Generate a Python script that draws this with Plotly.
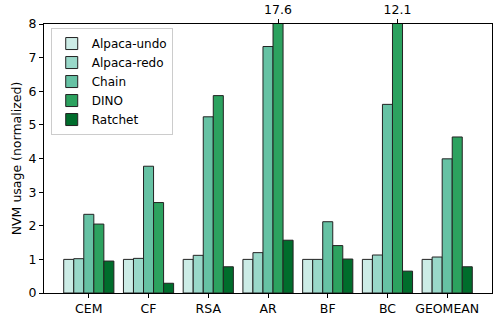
import plotly.graph_objects as go

categories = ["CEM", "CF", "RSA", "AR", "BF", "BC", "GEOMEAN"]
series_names = ["Alpaca-undo", "Alpaca-redo", "Chain", "DINO", "Ratchet"]
alpaca_undo = [1.0, 1.0, 1.0, 1.0, 1.0, 1.0, 1.0]
alpaca_redo = [1.02, 1.03, 1.12, 1.2, 1.0, 1.13, 1.07]
chain = [2.34, 3.77, 5.24, 7.33, 2.12, 5.61, 3.99]
dino = [2.05, 2.69, 5.87, 17.6, 1.41, 12.1, 4.64]
ratchet = [0.95, 0.29, 0.78, 1.57, 1.01, 0.65, 0.78]
colors = ["#ccece6", "#99d8c9", "#66c2a4", "#2ca25f", "#006d2c"]
y_max = 8

all_series = [alpaca_undo, alpaca_redo, chain, dino, ratchet]
bargap = 0.16
bw = (1 - bargap) / len(all_series)

fig = go.Figure()
for name, vals, col in zip(series_names, all_series, colors):
    fig.add_trace(go.Bar(x=categories, y=vals, name=name, marker_color=col,
                         marker_line_color="#222", marker_line_width=1))

# top ticks for clipped values
top_vals, top_text = [], []
for si, vals in enumerate(all_series):
    for ci, v in enumerate(vals):
        if v > y_max:
            top_vals.append(ci + (si - (len(all_series) - 1) / 2) * bw)
            top_text.append(f"{v:.1f}")

fig.add_trace(go.Scatter(x=[-0.75, 6.75], y=[0, 0], xaxis="x2", mode="markers",
                         marker=dict(opacity=0), showlegend=False, hoverinfo="skip"))

FAM = "DejaVu Sans"
font = dict(family=FAM, size=12.5, color="#000")
fig.update_layout(
    width=496, height=315,
    margin=dict(l=44, r=4, t=24, b=22),
    barmode="group", bargap=bargap, bargroupgap=0,
    plot_bgcolor="white", paper_bgcolor="white",
    font=font,
    showlegend=True,
    legend=dict(x=0.015, y=0.985, xanchor="left", yanchor="top",
                bgcolor="white", bordercolor="#cccccc", borderwidth=1,
                font=dict(family=FAM, size=12), tracegroupgap=0),
    xaxis=dict(range=[-0.75, 6.75], showline=True, linecolor="#000", linewidth=1,
               mirror=True, ticks="outside", ticklen=4, tickcolor="#000",
               showgrid=False, tickfont=dict(size=12.5), automargin=False),
    xaxis2=dict(overlaying="x", side="top", type="linear", range=[-0.75, 6.75],
                tickvals=top_vals, ticktext=top_text, ticks="outside", ticklen=4,
                tickcolor="#000", showgrid=False, showline=False, zeroline=False,
                tickfont=dict(size=12.5), automargin=False),
    yaxis=dict(range=[0, y_max], dtick=1, showline=True, linecolor="#000",
               linewidth=1, mirror=True, ticks="outside", ticklen=4,
               tickcolor="#000", showgrid=False, zeroline=False, automargin=False,
               title=dict(text="NVM usage (normalized)", font=dict(size=12.5), standoff=4),
               tickfont=dict(size=12.5)),
)

fig.write_html("out.html", config={"displayModeBar": False},
               post_script="document.body.style.margin='0';document.body.style.padding='0';")
